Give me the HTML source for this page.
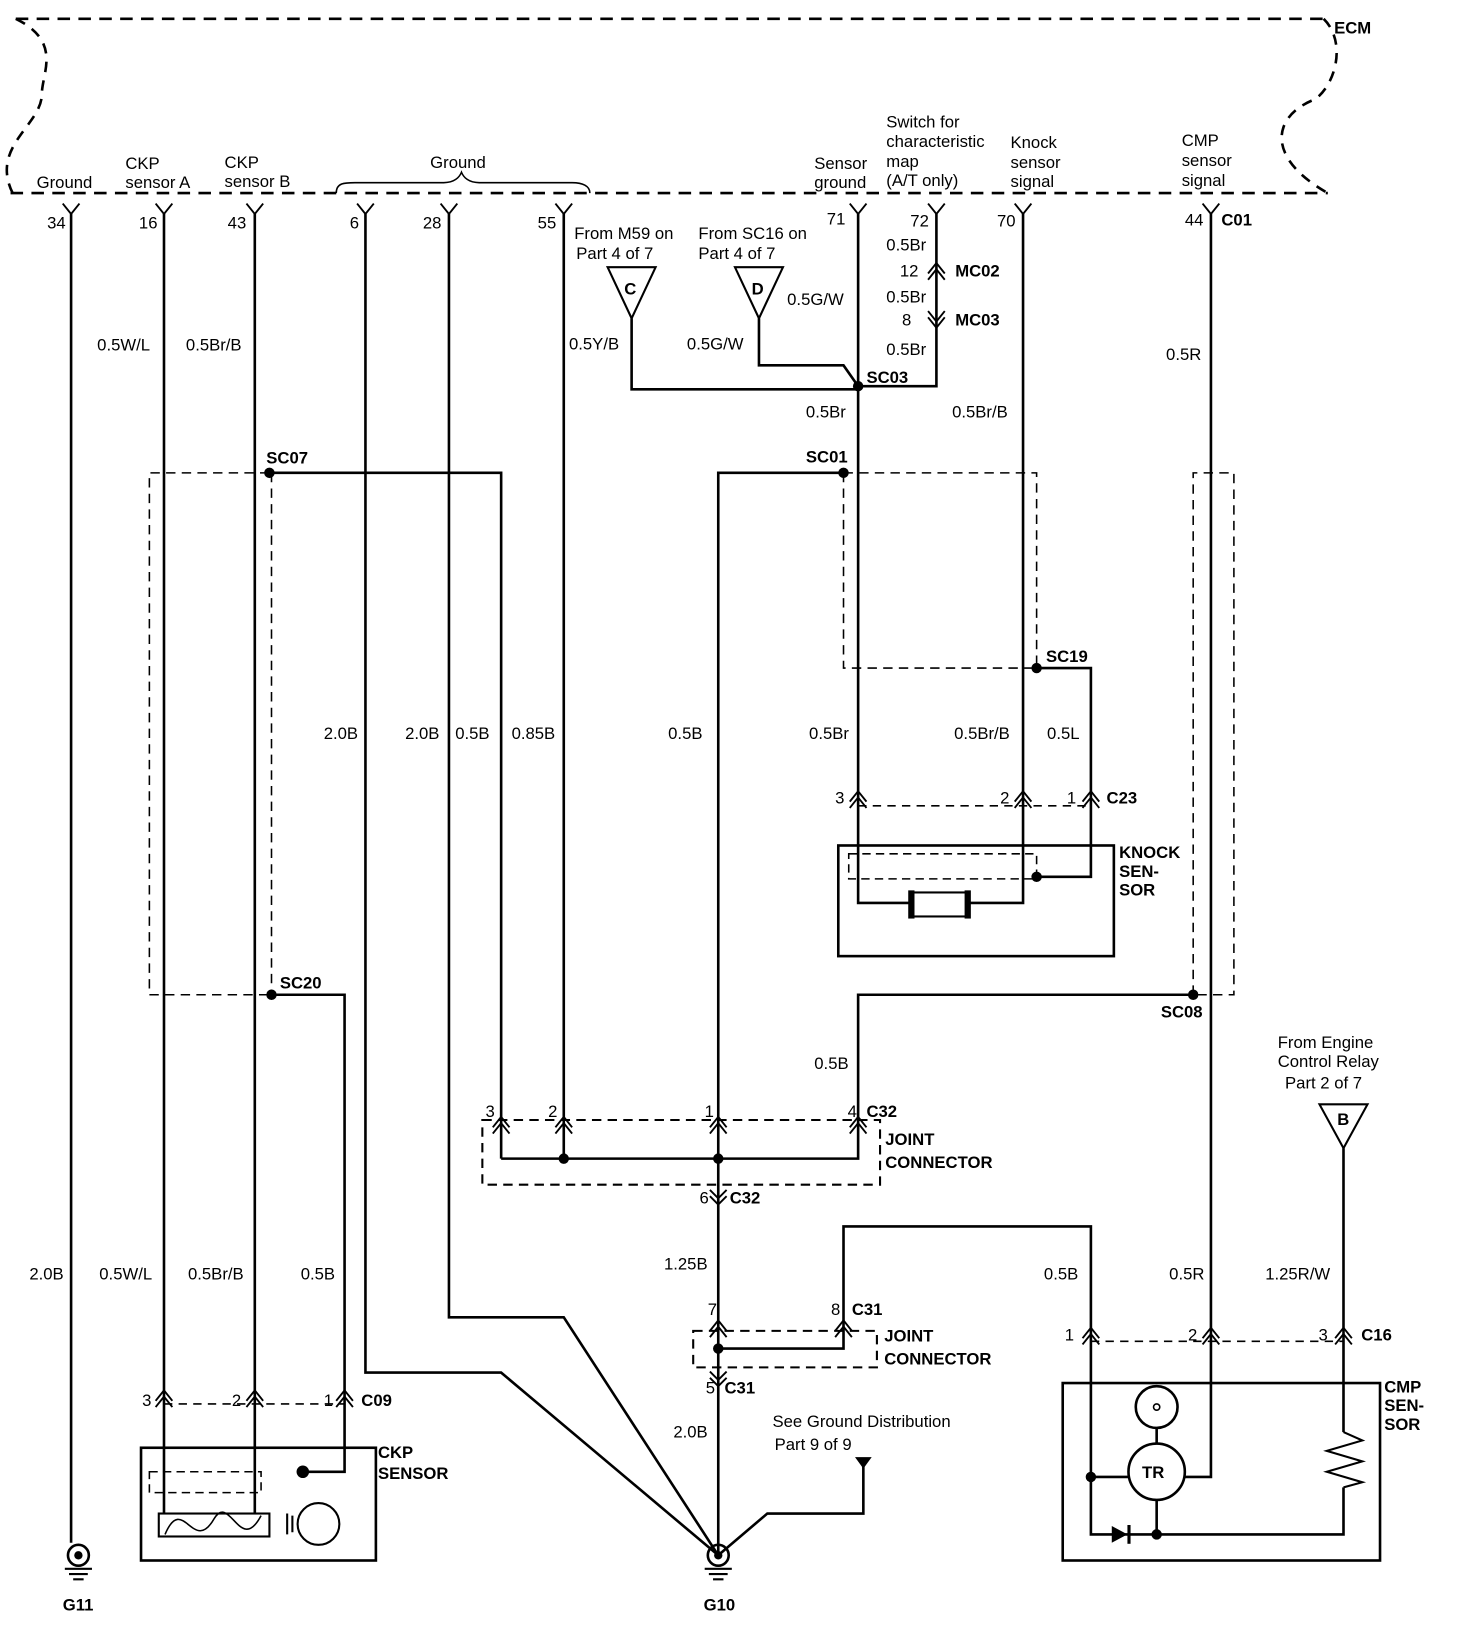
<!DOCTYPE html>
<html><head><meta charset="utf-8"><style>
html,body{margin:0;padding:0;background:#fff;}
svg{display:block}
text{font-family:"Liberation Sans",Arial,sans-serif;font-size:16px;fill:#000;}
.b{font-weight:bold}
</style></head><body>
<svg width="1472" height="1644" viewBox="0 0 1410 1575" xmlns="http://www.w3.org/2000/svg">
<g fill="none" stroke="#000" stroke-width="2.5">
<!-- ECM boundary -->
<path d="M15 18 H1268" stroke-dasharray="12 8"/>
<path d="M10 185 H1272" stroke-dasharray="12 8"/>
<path d="M15 18 C60 40 40 70 40 90 C40 120 -10 140 12 185" stroke-dasharray="10 8"/>
<path d="M1268 18 C1290 40 1280 80 1260 95 C1220 110 1210 150 1272 185" stroke-dasharray="10 8"/>
<!-- brace -->
<path d="M322 185 C322 175 330 175 340 175 L425 175 C435 175 440 170 442 165 C444 170 449 175 459 175 L548 175 C558 175 565 178 565 185" stroke-width="1.5"/>
</g>
<g fill="none" stroke="#000" stroke-width="2.5">
<!-- pin forks -->
<path d="M60 195 L68 205 L76 195 M149 195 L157 205 L165 195 M236 195 L244 205 L252 195 M342 195 L350 205 L358 195 M422 195 L430 205 L438 195 M532 195 L540 205 L548 195 M814 195 L822 205 L830 195 M889 195 L897 205 L905 195 M972 195 L980 205 L988 195 M1152 195 L1160 205 L1168 195" stroke-width="1.8"/>
<!-- wires -->
<path d="M68 205 V1478"/>
<path d="M157 205 V1450"/>
<path d="M244 205 V1450"/>
<path d="M350 205 V1315 H480 L688 1490"/>
<path d="M430 205 V1262 H540 L688 1490"/>
<path d="M540 205 V1110"/>
<path d="M258 453 H480 V1110"/>
<path d="M260 953 H330 V1410 H290"/>
<path d="M605 305 V373 H822"/>
<path d="M727 305 V350 H808 L822 370"/>
<path d="M822 205 V865 H872"/>
<path d="M897 205 V370 H822"/>
<path d="M980 205 V865 H928"/>
<path d="M808 453 H688 V1490"/>
<path d="M993 640 H1045 V840 H993"/>
<path d="M1143 953 H822 V1110 H480"/>
<path d="M1160 205 V1415 H1135"/>
<path d="M688 1292 H808 V1175 H1045 V1470 H1108 H1287 V1425"/>
<path d="M1287 1100 V1372"/>
<path d="M827 1405 V1450 H735 L688 1490"/>
<path d="M1045 1415 H1081"/>
<path d="M1108 1368 V1383 M1108 1437 V1470"/>
<!-- resistor -->
<path d="M1287 1372 L1305 1380 L1271 1390 L1305 1400 L1271 1410 L1305 1420 L1287 1425" stroke-width="2"/>
<!-- shield dashed -->
<path d="M258 453 H143 V953 H260 M260 453 V953" stroke-dasharray="9 6" stroke-width="1.5"/>
<path d="M808 453 V640 H993 V453 H808" stroke-dasharray="9 6" stroke-width="1.5"/>
<path d="M1143 953 V453 H1182 V953 H1143" stroke-dasharray="9 6" stroke-width="1.5"/>
<!-- connector dashed -->
<path d="M822 772 H1045" stroke-dasharray="8 6" stroke-width="1.5"/>
<rect x="462" y="1073" width="381" height="62" stroke-dasharray="9 6" stroke-width="2"/>
<rect x="664" y="1275" width="176" height="35" stroke-dasharray="9 6" stroke-width="2"/>
<path d="M1045 1285 H1287" stroke-dasharray="8 6" stroke-width="1.5"/>
<path d="M157 1345 H330" stroke-dasharray="8 6" stroke-width="1.5"/>
<!-- boxes -->
<rect x="803" y="810" width="264" height="106"/>
<rect x="813" y="818" width="180" height="24" stroke-dasharray="8 5" stroke-width="1.5"/>
<rect x="872" y="855" width="56" height="23" stroke-width="2"/>
<rect x="1018" y="1325" width="304" height="170"/>
<rect x="135" y="1387" width="225" height="108"/>
<rect x="143" y="1410" width="107" height="20" stroke-dasharray="8 5" stroke-width="1.5"/>
<rect x="152" y="1450" width="106" height="22" stroke-width="2"/>
<path d="M158 1470 C175 1430 185 1490 205 1455 C220 1430 230 1490 250 1452" stroke-width="1.5"/>
<circle cx="305" cy="1460" r="20" stroke-width="2"/>
<path d="M275 1450 V1470 M280 1452 V1468" stroke-width="2"/>
<circle cx="1108" cy="1410" r="27"/>
<circle cx="1108" cy="1348" r="20"/>
<circle cx="1108" cy="1348" r="3" stroke-width="1.5"/>
<!-- triangles -->
<path d="M582 256 H628 L605 305 Z" stroke-width="2"/>
<path d="M704 256 H750 L727 305 Z" stroke-width="2"/>
<path d="M1264 1058 H1310 L1287 1100 Z" stroke-width="2"/>
<!-- connector chevrons -->
<g stroke-width="1.8">
<path d="M889 262 L897 252 L905 262 M889 268 L897 258 L905 268"/>
<path d="M889 298 L897 308 L905 298 M889 304 L897 314 L905 304"/>
<path d="M814 768 L822 758 L830 768 M814 774 L822 764 L830 774"/>
<path d="M972 768 L980 758 L988 768 M972 774 L980 764 L988 774"/>
<path d="M1037 768 L1045 758 L1053 768 M1037 774 L1045 764 L1053 774"/>
<path d="M472 1080 L480 1070 L488 1080 M472 1086 L480 1076 L488 1086"/>
<path d="M532 1080 L540 1070 L548 1080 M532 1086 L540 1076 L548 1086"/>
<path d="M680 1080 L688 1070 L696 1080 M680 1086 L688 1076 L696 1086"/>
<path d="M814 1080 L822 1070 L830 1080 M814 1086 L822 1076 L830 1086"/>
<path d="M680 1140 L688 1148 L696 1140 M680 1146 L688 1154 L696 1146"/>
<path d="M680 1275 L688 1265 L696 1275 M680 1281 L688 1271 L696 1281"/>
<path d="M800 1275 L808 1265 L816 1275 M800 1281 L808 1271 L816 1281"/>
<path d="M680 1314 L688 1322 L696 1314 M680 1320 L688 1328 L696 1320"/>
<path d="M1037 1282 L1045 1272 L1053 1282 M1037 1288 L1045 1278 L1053 1288"/>
<path d="M1152 1282 L1160 1272 L1168 1282 M1152 1288 L1160 1278 L1168 1288"/>
<path d="M1279 1282 L1287 1272 L1295 1282 M1279 1288 L1287 1278 L1295 1288"/>
<path d="M149 1342 L157 1332 L165 1342 M149 1348 L157 1338 L165 1348"/>
<path d="M236 1342 L244 1332 L252 1342 M236 1348 L244 1338 L252 1348"/>
<path d="M322 1342 L330 1332 L338 1342 M322 1348 L330 1338 L338 1348"/>
</g>
<!-- grounds -->
<circle cx="75" cy="1490" r="10"/>
<path d="M62 1503 H88 M66 1508 H84 M70 1513 H80" stroke-width="2"/>
<circle cx="688" cy="1490" r="10"/>
<path d="M675 1503 H701 M679 1508 H697 M683 1513 H693" stroke-width="2"/>
</g>
<!-- filled -->
<g fill="#000">
<circle cx="258" cy="453" r="5"/><circle cx="260" cy="953" r="5"/>
<circle cx="822" cy="370" r="5"/><circle cx="808" cy="453" r="5"/>
<circle cx="993" cy="640" r="5"/><circle cx="993" cy="840" r="5"/>
<circle cx="1143" cy="953" r="5"/><circle cx="540" cy="1110" r="5"/>
<circle cx="688" cy="1110" r="5"/><circle cx="688" cy="1292" r="5"/>
<circle cx="1045" cy="1415" r="5"/><circle cx="1108" cy="1470" r="5"/>
<circle cx="290" cy="1410" r="6"/><circle cx="75" cy="1490" r="4"/><circle cx="688" cy="1490" r="4"/>
<rect x="870" y="853" width="6" height="27"/><rect x="924" y="853" width="6" height="27"/>
<path d="M1065 1462 L1080 1470 L1065 1478 Z"/><rect x="1080" y="1461" width="3" height="18"/>
<path d="M819 1396 H835 L827 1407 Z"/>
</g>
<!-- text -->
<text x="1278" y="32" class="b">ECM</text>
<text x="35" y="180">Ground</text>
<text x="120" y="162">CKP</text><text x="120" y="180">sensor A</text>
<text x="215" y="161">CKP</text><text x="215" y="179">sensor B</text>
<text x="412" y="161">Ground</text>
<text x="780" y="162">Sensor</text><text x="780" y="180">ground</text>
<text x="849" y="122">Switch for</text><text x="849" y="141">characteristic</text><text x="849" y="160">map</text><text x="849" y="178">(A/T only)</text>
<text x="968" y="142">Knock</text><text x="968" y="161">sensor</text><text x="968" y="179">signal</text>
<text x="1132" y="140">CMP</text><text x="1132" y="159">sensor</text><text x="1132" y="178">signal</text>
<text x="45" y="219">34</text><text x="133" y="219">16</text><text x="218" y="219">43</text>
<text x="335" y="219">6</text><text x="405" y="219">28</text><text x="515" y="219">55</text>
<text x="792" y="215">71</text><text x="872" y="217">72</text><text x="955" y="217">70</text>
<text x="1135" y="216">44</text><text x="1170" y="216" class="b">C01</text>
<text x="550" y="229">From M59 on</text><text x="552" y="248">Part 4 of 7</text>
<text x="669" y="229">From SC16 on</text><text x="669" y="248">Part 4 of 7</text>
<text x="598" y="282" class="b">C</text><text x="720" y="282" class="b">D</text>
<text x="754" y="292">0.5G/W</text>
<text x="849" y="240">0.5Br</text><text x="862" y="265">12</text><text x="915" y="265" class="b">MC02</text>
<text x="849" y="290">0.5Br</text><text x="864" y="312">8</text><text x="915" y="312" class="b">MC03</text>
<text x="849" y="340">0.5Br</text>
<text x="93" y="336">0.5W/L</text><text x="178" y="336">0.5Br/B</text>
<text x="545" y="335">0.5Y/B</text><text x="658" y="335">0.5G/W</text>
<text x="830" y="367" class="b">SC03</text>
<text x="1117" y="345">0.5R</text>
<text x="772" y="400">0.5Br</text><text x="912" y="400">0.5Br/B</text>
<text x="255" y="444" class="b">SC07</text><text x="772" y="443" class="b">SC01</text>
<text x="1002" y="634" class="b">SC19</text>
<text x="310" y="708">2.0B</text><text x="388" y="708">2.0B</text><text x="436" y="708">0.5B</text><text x="490" y="708">0.85B</text>
<text x="640" y="708">0.5B</text><text x="775" y="708">0.5Br</text><text x="914" y="708">0.5Br/B</text><text x="1003" y="708">0.5L</text>
<text x="800" y="770">3</text><text x="958" y="770">2</text><text x="1022" y="770">1</text><text x="1060" y="770" class="b">C23</text>
<text x="1072" y="822" class="b">KNOCK</text><text x="1072" y="840" class="b">SEN-</text><text x="1072" y="858" class="b">SOR</text>
<text x="268" y="947" class="b">SC20</text><text x="1112" y="975" class="b">SC08</text>
<text x="1224" y="1004">From Engine</text><text x="1224" y="1022">Control Relay</text><text x="1231" y="1043">Part 2 of 7</text>
<text x="780" y="1024">0.5B</text>
<text x="465" y="1070">3</text><text x="525" y="1070">2</text><text x="675" y="1070">1</text><text x="812" y="1070">4</text><text x="830" y="1070" class="b">C32</text>
<text x="1281" y="1078" class="b">B</text>
<text x="848" y="1097" class="b">JOINT</text><text x="848" y="1119" class="b">CONNECTOR</text>
<text x="670" y="1153">6</text><text x="699" y="1153" class="b">C32</text>
<text x="636" y="1216">1.25B</text>
<text x="28" y="1226">2.0B</text><text x="95" y="1226">0.5W/L</text><text x="180" y="1226">0.5Br/B</text><text x="288" y="1226">0.5B</text>
<text x="1000" y="1226">0.5B</text><text x="1120" y="1226">0.5R</text><text x="1212" y="1226">1.25R/W</text>
<text x="678" y="1260">7</text><text x="796" y="1260">8</text><text x="816" y="1260" class="b">C31</text>
<text x="1020" y="1284">1</text><text x="1138" y="1284">2</text><text x="1263" y="1284">3</text><text x="1304" y="1284" class="b">C16</text>
<text x="847" y="1285" class="b">JOINT</text><text x="847" y="1307" class="b">CONNECTOR</text>
<text x="676" y="1335">5</text><text x="694" y="1335" class="b">C31</text>
<text x="1326" y="1334" class="b">CMP</text><text x="1326" y="1352" class="b">SEN-</text><text x="1326" y="1370" class="b">SOR</text>
<text x="136" y="1347">3</text><text x="222" y="1347">2</text><text x="310" y="1347">1</text><text x="346" y="1347" class="b">C09</text>
<text x="740" y="1367">See Ground Distribution</text><text x="742" y="1389">Part 9 of 9</text>
<text x="645" y="1377">2.0B</text>
<text x="362" y="1397" class="b">CKP</text><text x="362" y="1417" class="b">SENSOR</text>
<text x="1094" y="1416" class="b">TR</text>
<text x="60" y="1543" class="b">G11</text><text x="674" y="1543" class="b">G10</text>
</svg>
</body></html>
